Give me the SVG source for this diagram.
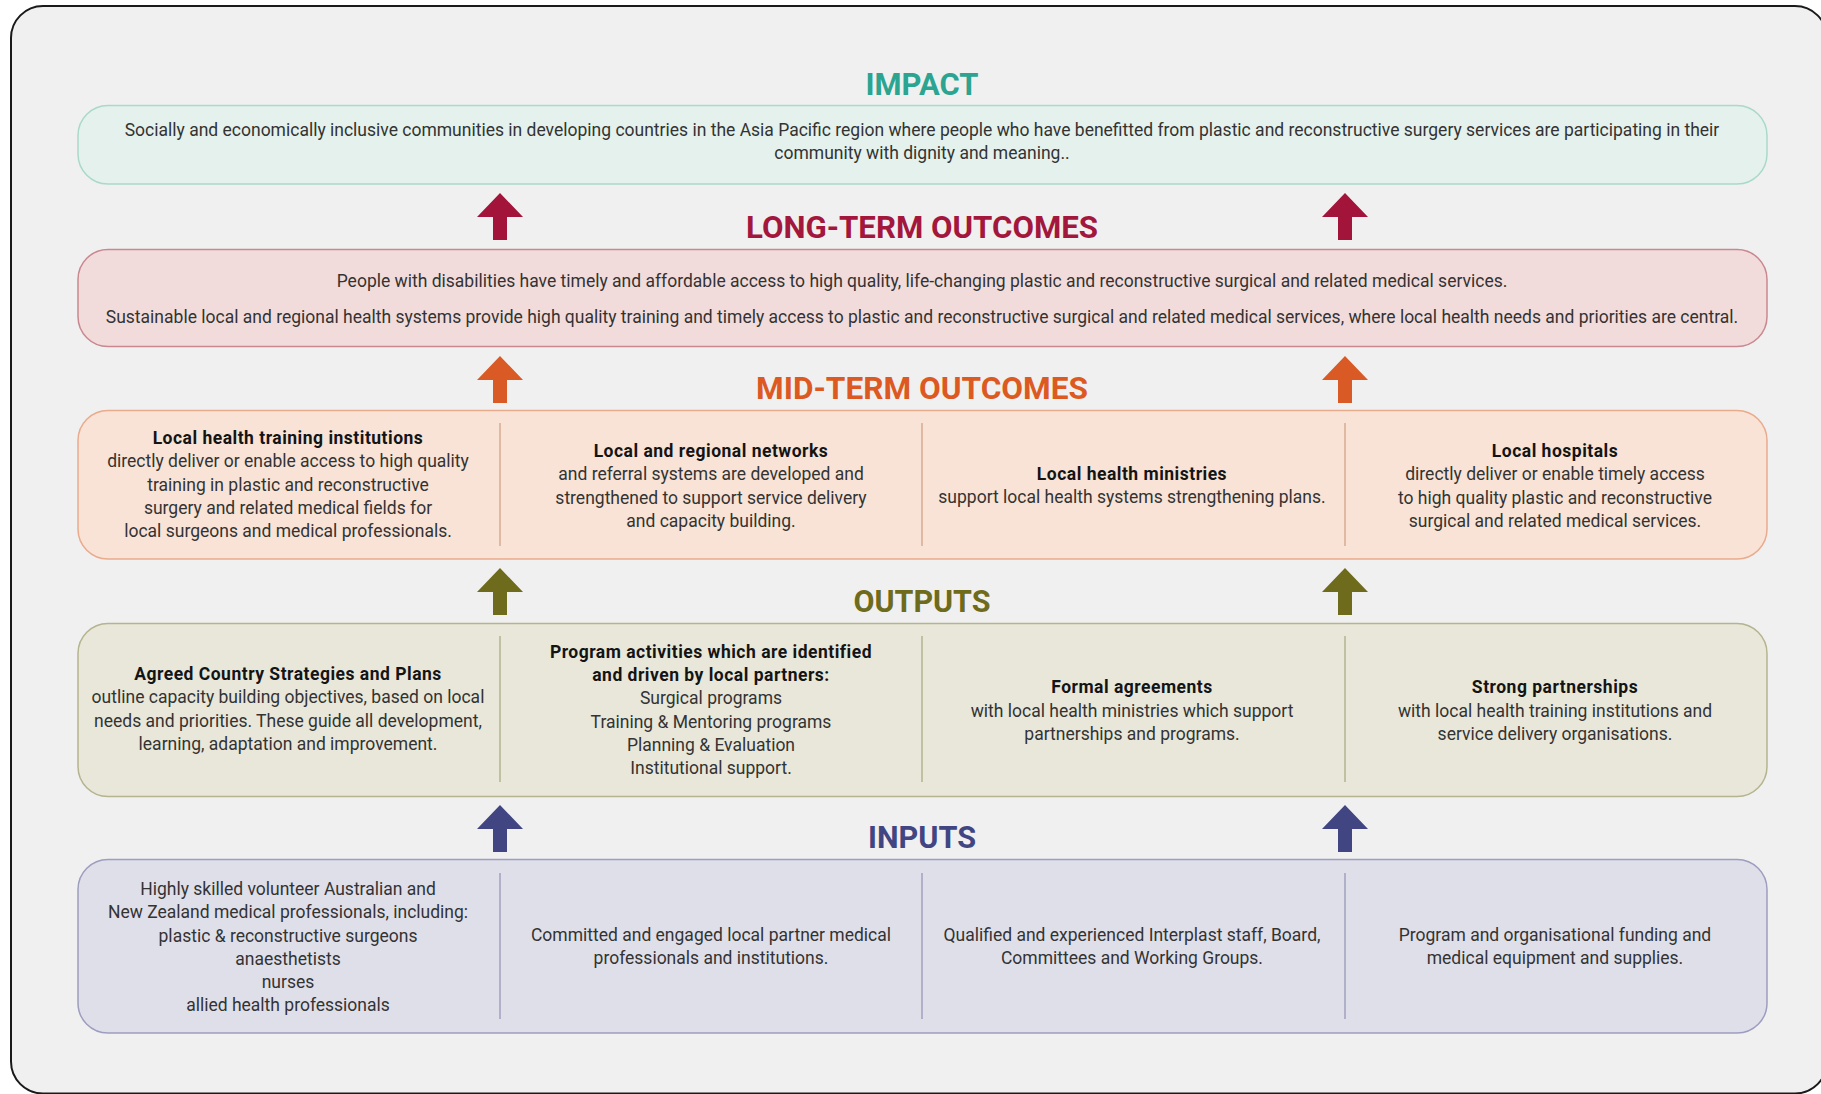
<svg xmlns="http://www.w3.org/2000/svg" width="1821" height="1094" viewBox="0 0 1821 1094">
  <style>
    .title { font-family: Roboto, "Liberation Sans", sans-serif; font-weight: bold; font-size: 31px; text-anchor: middle; }
    .body { font-family: Roboto, "Liberation Sans", sans-serif; font-size: 17.5px; fill: #333333; text-anchor: middle; }
    .head { font-family: Roboto, "Liberation Sans", sans-serif; font-size: 17.5px; font-weight: bold; letter-spacing: 0.5px; fill: #141414; text-anchor: middle; }
    .band { stroke-width: 1.5; }
    .div { stroke-width: 1.5; }
  </style>
  <defs>
    <!-- upward block arrow, tip at origin -->
    <path id="up" d="M0 0 L23 24 L7 24 L7 47 L-7 47 L-7 24 L-23 24 Z"/>
  </defs>

  <!-- frame -->
  <rect x="11" y="6" width="1816" height="1087.5" rx="32" fill="#f0f0f0" stroke="#1a1a1a" stroke-width="2"/>

  <!-- IMPACT -->
  <g id="impact">
    <text class="title" x="922" y="95" fill="#2ba491" textLength="113" lengthAdjust="spacingAndGlyphs">IMPACT</text>
    <rect class="band" x="78" y="105.5" width="1689" height="78.5" rx="30" fill="#e4f1ec" stroke="#a9d9c9"/>
    <text class="body" x="922" y="136">Socially and economically inclusive communities in developing countries in the Asia Pacific region where people who have benefitted from plastic and reconstructive surgery services are participating in their</text>
    <text class="body" x="922" y="159">community with dignity and meaning..</text>
  </g>

  <!-- LONG-TERM OUTCOMES -->
  <g id="long-term">
    <text class="title" x="922" y="238" fill="#a3173d" textLength="352" lengthAdjust="spacingAndGlyphs">LONG-TERM OUTCOMES</text>
    <rect class="band" x="78" y="249.5" width="1689" height="97" rx="30" fill="#f2dcdb" stroke="#c98890"/>
    <text class="body" x="922" y="287">People with disabilities have timely and affordable access to high quality, life-changing plastic and reconstructive surgical and related medical services.</text>
    <text class="body" x="922" y="323">Sustainable local and regional health systems provide high quality training and timely access to plastic and reconstructive surgical and related medical services, where local health needs and priorities are central.</text>
  </g>

  <!-- MID-TERM OUTCOMES -->
  <g id="mid-term">
    <text class="title" x="922" y="399" fill="#dc5a22" textLength="332" lengthAdjust="spacingAndGlyphs">MID-TERM OUTCOMES</text>
    <rect class="band" x="78" y="410.5" width="1689" height="148.5" rx="30" fill="#f8e3d6" stroke="#eaaa8c"/>
    <g stroke="#d8ab92" class="div">
      <line x1="500" y1="423" x2="500" y2="546"/>
      <line x1="922" y1="423" x2="922" y2="546"/>
      <line x1="1345" y1="423" x2="1345" y2="546"/>
    </g>
    <g id="mid-1">
      <text class="head" x="288" y="444">Local health training institutions</text>
      <text class="body" x="288" y="467">directly deliver or enable access to high quality</text>
      <text class="body" x="288" y="491">training in plastic and reconstructive</text>
      <text class="body" x="288" y="514">surgery and related medical fields for</text>
      <text class="body" x="288" y="537">local surgeons and medical professionals.</text>
    </g>
    <g id="mid-2">
      <text class="head" x="711" y="457">Local and regional networks</text>
      <text class="body" x="711" y="480">and referral systems are developed and</text>
      <text class="body" x="711" y="504">strengthened to support service delivery</text>
      <text class="body" x="711" y="527">and capacity building.</text>
    </g>
    <g id="mid-3">
      <text class="head" x="1132" y="480">Local health ministries</text>
      <text class="body" x="1132" y="503">support local health systems strengthening plans.</text>
    </g>
    <g id="mid-4">
      <text class="head" x="1555" y="457">Local hospitals</text>
      <text class="body" x="1555" y="480">directly deliver or enable timely access</text>
      <text class="body" x="1555" y="504">to high quality plastic and reconstructive</text>
      <text class="body" x="1555" y="527">surgical and related medical services.</text>
    </g>
  </g>

  <!-- OUTPUTS -->
  <g id="outputs">
    <text class="title" x="922" y="612" fill="#6e6b1c" textLength="137" lengthAdjust="spacingAndGlyphs">OUTPUTS</text>
    <rect class="band" x="78" y="623.5" width="1689" height="173" rx="30" fill="#e8e7da" stroke="#b4b48f"/>
    <g stroke="#b3b38f" class="div">
      <line x1="500" y1="636" x2="500" y2="782"/>
      <line x1="922" y1="636" x2="922" y2="782"/>
      <line x1="1345" y1="636" x2="1345" y2="782"/>
    </g>
    <g id="out-1">
      <text class="head" x="288" y="680">Agreed Country Strategies and Plans</text>
      <text class="body" x="288" y="703">outline capacity building objectives, based on local</text>
      <text class="body" x="288" y="727">needs and priorities. These guide all development,</text>
      <text class="body" x="288" y="750">learning, adaptation and improvement.</text>
    </g>
    <g id="out-2">
      <text class="head" x="711" y="658">Program activities which are identified</text>
      <text class="head" x="711" y="681">and driven by local partners:</text>
      <text class="body" x="711" y="704">Surgical programs</text>
      <text class="body" x="711" y="728">Training &amp; Mentoring programs</text>
      <text class="body" x="711" y="751">Planning &amp; Evaluation</text>
      <text class="body" x="711" y="774">Institutional support.</text>
    </g>
    <g id="out-3">
      <text class="head" x="1132" y="693">Formal agreements</text>
      <text class="body" x="1132" y="717">with local health ministries which support</text>
      <text class="body" x="1132" y="740">partnerships and programs.</text>
    </g>
    <g id="out-4">
      <text class="head" x="1555" y="693">Strong partnerships</text>
      <text class="body" x="1555" y="717">with local health training institutions and</text>
      <text class="body" x="1555" y="740">service delivery organisations.</text>
    </g>
  </g>

  <!-- INPUTS -->
  <g id="inputs">
    <text class="title" x="922" y="848" fill="#414682" textLength="108" lengthAdjust="spacingAndGlyphs">INPUTS</text>
    <rect class="band" x="78" y="859.5" width="1689" height="173.5" rx="30" fill="#dfdfea" stroke="#9d9dc0"/>
    <g stroke="#a0a0c0" class="div">
      <line x1="500" y1="873" x2="500" y2="1019"/>
      <line x1="922" y1="873" x2="922" y2="1019"/>
      <line x1="1345" y1="873" x2="1345" y2="1019"/>
    </g>
    <g id="in-1">
      <text class="body" x="288" y="895">Highly skilled volunteer Australian and</text>
      <text class="body" x="288" y="918">New Zealand medical professionals, including:</text>
      <text class="body" x="288" y="942">plastic &amp; reconstructive surgeons</text>
      <text class="body" x="288" y="965">anaesthetists</text>
      <text class="body" x="288" y="988">nurses</text>
      <text class="body" x="288" y="1011">allied health professionals</text>
    </g>
    <g id="in-2">
      <text class="body" x="711" y="941">Committed and engaged local partner medical</text>
      <text class="body" x="711" y="964">professionals and institutions.</text>
    </g>
    <g id="in-3">
      <text class="body" x="1132" y="941">Qualified and experienced Interplast staff, Board,</text>
      <text class="body" x="1132" y="964">Committees and Working Groups.</text>
    </g>
    <g id="in-4">
      <text class="body" x="1555" y="941">Program and organisational funding and</text>
      <text class="body" x="1555" y="964">medical equipment and supplies.</text>
    </g>
  </g>

  <!-- connectors: block arrows between the bands -->
  <g id="connectors">
    <use href="#up" x="500" y="193" fill="#a3143a"/>
    <use href="#up" x="1345" y="193" fill="#a3143a"/>
    <use href="#up" x="500" y="356" fill="#d95a25"/>
    <use href="#up" x="1345" y="356" fill="#d95a25"/>
    <use href="#up" x="500" y="568" fill="#6e6b1c"/>
    <use href="#up" x="1345" y="568" fill="#6e6b1c"/>
    <use href="#up" x="500" y="805" fill="#414682"/>
    <use href="#up" x="1345" y="805" fill="#414682"/>
  </g>
</svg>
